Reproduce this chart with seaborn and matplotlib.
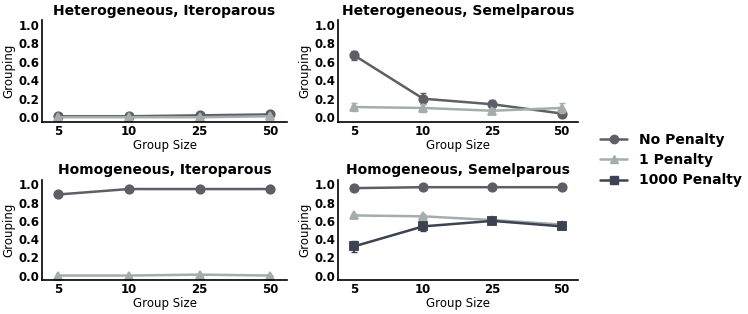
import numpy as np
import pandas as pd
import seaborn as sns
from matplotlib import pyplot as plt
from matplotlib.lines import Line2D

group_sizes = ["5", "10", "25", "50"]
series_names = ["No Penalty", "1 Penalty", "1000 Penalty"]
colors = {"No Penalty": "#5e5f66", "1 Penalty": "#a3adab", "1000 Penalty": "#3d4252"}
markers = {"No Penalty": "o", "1 Penalty": "^", "1000 Penalty": "s"}

# panel title -> {series: (means, errors)}
het_itero = {
    "No Penalty": ([0.01, 0.01, 0.02, 0.03], [0.01, 0.01, 0.01, 0.01]),
    "1 Penalty": ([0.0, 0.0, 0.0, 0.01], [0.005, 0.005, 0.005, 0.005]),
}
het_semel = {
    "No Penalty": ([0.67, 0.20, 0.14, 0.04], [0.05, 0.06, 0.05, 0.02]),
    "1 Penalty": ([0.11, 0.10, 0.07, 0.10], [0.04, 0.04, 0.03, 0.05]),
}
hom_itero = {
    "No Penalty": ([0.89, 0.95, 0.95, 0.95], [0.02, 0.01, 0.01, 0.01]),
    "1 Penalty": ([0.0, 0.0, 0.01, 0.0], [0.005, 0.005, 0.01, 0.005]),
}
hom_semel = {
    "No Penalty": ([0.96, 0.97, 0.97, 0.97], [0.01, 0.01, 0.01, 0.01]),
    "1 Penalty": ([0.66, 0.65, 0.61, 0.56], [0.02, 0.03, 0.02, 0.02]),
    "1000 Penalty": ([0.32, 0.54, 0.60, 0.54], [0.06, 0.05, 0.02, 0.03]),
}

panels = [
    ("Heterogeneous, Iteroparous", het_itero, [0.056, 0.612, 0.328, 0.324]),
    ("Heterogeneous, Semelparous", het_semel, [0.452, 0.612, 0.321, 0.324]),
    ("Homogeneous, Iteroparous", hom_itero, [0.056, 0.108, 0.328, 0.319]),
    ("Homogeneous, Semelparous", hom_semel, [0.452, 0.108, 0.321, 0.319]),
]

sns.set_style("white")
plt.rcParams['font.family'] = ['DejaVu Sans']
plt.rcParams['text.color'] = 'black'
plt.rcParams['axes.labelcolor'] = 'black'
plt.rcParams['xtick.color'] = 'black'
plt.rcParams['ytick.color'] = 'black'

fig = plt.figure(figsize=(7.48, 3.14), dpi=100)

for title, data, rect in panels:
    ax = fig.add_axes(rect)
    rows = []
    for name, (means, errs) in data.items():
        for g, m, e in zip(group_sizes, means, errs):
            rows.append({"Group Size": g, "Grouping": m, "err": e, "Series": name})
    df = pd.DataFrame(rows)
    for name in data:
        sub = df[df["Series"] == name]
        sns.pointplot(x="Group Size", y="Grouping", data=sub, order=group_sizes,
                      color=colors[name], markers=markers[name], errorbar=None,
                      linewidth=1.8, markersize=6, ax=ax)
        ax.errorbar(np.arange(len(group_sizes)), sub["Grouping"], yerr=sub["err"],
                    fmt="none", ecolor=colors[name], elinewidth=1.5, capsize=2.5)
    ax.set_xlim(-0.23, 3.24)
    ax.set_ylim(-0.05, 1.05)
    ax.set_yticks([0.0, 0.2, 0.4, 0.6, 0.8, 1.0])
    ax.set_yticklabels(["0.0", "0.2", "0.4", "0.6", "0.8", "1.0"])
    ax.set_title(title, fontsize=10, fontweight="bold", pad=4, color="black")
    ax.set_xlabel("Group Size", fontsize=8.5, labelpad=1)
    ax.set_ylabel("Grouping", fontsize=8.5, labelpad=2)
    for lab in ax.get_xticklabels() + ax.get_yticklabels():
        lab.set_fontweight("bold")
        lab.set_fontsize(8.5)
    ax.tick_params(axis="both", length=0, pad=2)
    sns.despine(ax=ax)
    for s in ["left", "bottom"]:
        ax.spines[s].set_color("black")
        ax.spines[s].set_linewidth(1.2)

handles = [Line2D([0], [0], color=colors[n], marker=markers[n], lw=1.8, markersize=6)
           for n in series_names]
fig.legend(handles, series_names, loc="center left", bbox_to_anchor=(0.785, 0.49),
           frameon=False, prop={"weight": "bold", "size": 10}, handlelength=2,
           handletextpad=0.8, labelspacing=0.45)

fig.savefig("out.png", dpi=100)
